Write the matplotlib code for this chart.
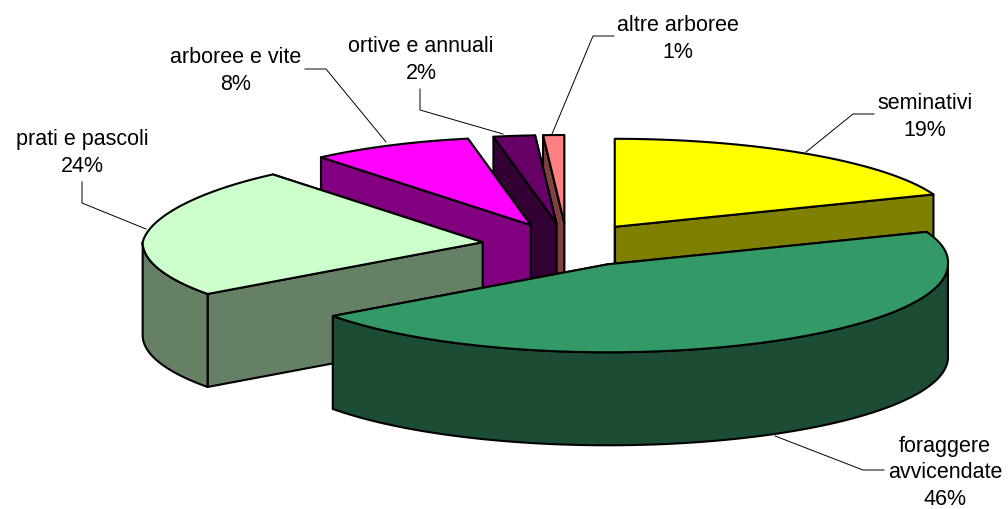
import matplotlib
matplotlib.use("Agg")
import matplotlib.pyplot as plt
import numpy as np

plt.rcParams['font.family'] = ['Liberation Sans', 'DejaVu Sans']

# data
categories = ["seminativi", "foraggere\navvicendate", "prati e pascoli",
              "arboree e vite", "ortive e annuali", "altre arboree"]
shares = [19, 46, 24, 8, 2, 1]

top_colors = ["#FFFF00", "#339966", "#CCFFCC", "#FF00FF", "#660066", "#FF8080"]
side_colors = ["#808000", "#1A4D33", "#668066", "#800080", "#330033", "#804040"]

# label centres and leader lines, in pixels
label_xy = [(925, 117), (945, 473), (82, 153), (236, 71), (421, 60), (678, 39)]
leaders = [[(806, 153), (853, 115), (874, 115)],
           [(775, 437), (863, 471), (884, 471)],
           [(82, 183), (82, 204), (146, 230)],
           [(386, 143), (326, 70), (305, 70)],
           [(420, 90), (420, 111), (503, 135)],
           [(552, 135), (593, 37), (614, 37)]]

# pie geometry, in pixels
cx, cy = 567, 246
rx, ry = 340, 88
depth = 93
explode = 0.25

# back to front
draw_order = [0, 5, 4, 3, 2, 1]

fig = plt.figure(figsize=(10.08, 5.10), dpi=100)
ax = fig.add_axes([0, 0, 1, 1])
ax.set_xlim(0, 1008)
ax.set_ylim(510, 0)
ax.axis("off")

edges = np.cumsum([0] + shares) / sum(shares) * 2 * np.pi


def rim(x0, y0, t):
    # the original has some perspective: back corners lean to the right
    sin, cos = np.sin(t), np.cos(t)
    lean = np.where(sin < 0, 22, 8) * np.clip(cos, 0, None) * sin ** 2
    return np.column_stack([x0 + rx * sin + lean, y0 - ry * cos])


def face(pts, color):
    ax.fill(pts[:, 0], pts[:, 1], facecolor=color, edgecolor="black",
            linewidth=1.5, joinstyle="round")


for i in draw_order:
    t0, t1 = edges[i], edges[i + 1]
    mid = (t0 + t1) / 2
    x0 = cx + explode * rx * np.sin(mid)
    y0 = cy - explode * ry * np.cos(mid)
    apex = np.array([[x0, y0]])
    down = np.array([0, depth])

    # flat walls of the cut
    for t in (t1, t0):
        p = rim(x0, y0, np.array([t]))
        face(np.vstack([apex, p, p + down, apex + down]), side_colors[i])

    # outer wall, only the part facing the viewer
    a, b = max(t0, np.pi / 2), min(t1, 1.5 * np.pi)
    if a < b:
        arc = rim(x0, y0, np.linspace(a, b, 100))
        face(np.vstack([arc, arc[::-1] + down]), side_colors[i])

    # top
    arc = rim(x0, y0, np.linspace(t0, t1, 200))
    face(np.vstack([apex, arc]), top_colors[i])

for name, share, (lx, ly), line in zip(categories, shares, label_xy, leaders):
    ax.text(lx, ly, f"{name}\n{share}%", ha="center", va="center",
            fontsize=15.5, color="black", linespacing=1.32)
    xs, ys = zip(*line)
    ax.plot(xs, ys, color="black", linewidth=0.7)

fig.savefig("out.png", dpi=100)
